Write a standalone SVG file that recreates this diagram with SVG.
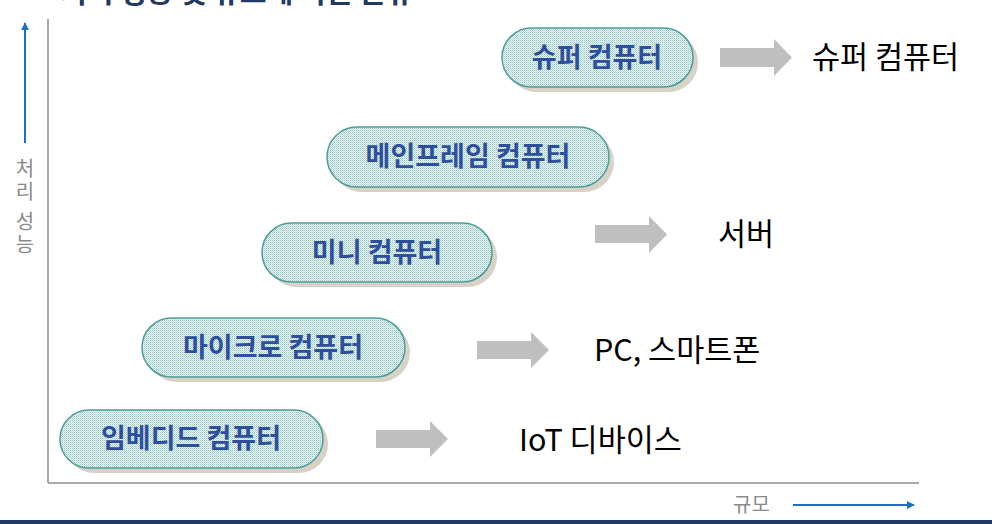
<svg xmlns="http://www.w3.org/2000/svg" width="992" height="524" viewBox="0 0 992 524">
<defs>
<pattern id="dots" width="2" height="2" patternUnits="userSpaceOnUse">
<rect width="2" height="2" fill="#eef7f6"/>
<rect x="0" y="0" width="1" height="1" fill="#92c9c6"/>
<rect x="1" y="1" width="1" height="1" fill="#b5dcda"/>
</pattern>
<marker id="ah" viewBox="0 0 10 10" refX="9" refY="5" markerWidth="4" markerHeight="4" orient="auto-start-reverse" markerUnits="strokeWidth">
<path d="M0,0 L10,5 L0,10 z" fill="#1f6fbf"/>
</marker>
<style>
.pill{fill:url(#dots);stroke:#4e9c9a;stroke-width:1.5}
.shadow{fill:#d8d2c6}
.ptxt{font-family:"Noto Sans CJK KR","Noto Sans",sans-serif;font-weight:bold;font-size:27px;fill:#2e4f9e;text-anchor:middle}
.rtxt{font-family:"Noto Sans CJK KR","Noto Sans",sans-serif;font-size:30.5px;fill:#000}
.axis{stroke:#8c8c8c;stroke-width:1.5;fill:none}
.blue{stroke:#1f6fbf;stroke-width:2;fill:none}
.atxt{font-family:"Noto Sans CJK KR","Noto Sans",sans-serif;font-size:20px;fill:#8a8a8a}
.blk{fill:#bfbfbf}
</style>
</defs>
<rect width="992" height="524" fill="#ffffff"/>
<text x="60" y="3" font-family="'Noto Sans CJK KR',sans-serif" font-weight="bold" font-size="29" fill="#1f3864">처리 성능 및 규모에 따른 분류</text>
<rect x="0" y="520" width="992" height="4" fill="#203864"/>

<g id="axes">
<line class="axis" x1="48" y1="19" x2="48" y2="483"/>
<line class="axis" x1="48" y1="483" x2="919" y2="483"/>
<line class="blue" x1="25" y1="143" x2="25" y2="23" marker-end="url(#ah)"/>
<line class="blue" x1="793" y1="505" x2="914" y2="505" marker-end="url(#ah)"/>
<text class="atxt" x="25" y="158" writing-mode="tb" letter-spacing="3">처리 성능</text>
<text class="atxt" x="733" y="512">규모</text>
</g>

<g id="node-super">
<rect class="shadow" x="507" y="33" width="191" height="59" rx="29.5"/>
<rect class="pill" x="502" y="28" width="191" height="59" rx="29.5"/>
<text class="ptxt" x="597" y="67">슈퍼 컴퓨터</text>
</g>
<g id="node-mainframe">
<rect class="shadow" x="332" y="132" width="282" height="60" rx="30"/>
<rect class="pill" x="327" y="127" width="282" height="60" rx="30"/>
<text class="ptxt" x="468" y="166">메인프레임 컴퓨터</text>
</g>
<g id="node-mini">
<rect class="shadow" x="267" y="228" width="230" height="59" rx="29.5"/>
<rect class="pill" x="262" y="223" width="230" height="59" rx="29.5"/>
<text class="ptxt" x="377" y="262">미니 컴퓨터</text>
</g>
<g id="node-micro">
<rect class="shadow" x="147" y="323" width="263" height="59" rx="29.5"/>
<rect class="pill" x="142" y="318" width="263" height="59" rx="29.5"/>
<text class="ptxt" x="273" y="357">마이크로 컴퓨터</text>
</g>
<g id="node-embedded">
<rect class="shadow" x="65" y="415" width="263" height="58" rx="29"/>
<rect class="pill" x="60" y="410" width="263" height="58" rx="29"/>
<text class="ptxt" x="191" y="448">임베디드 컴퓨터</text>
</g>

<g id="connectors">
<path class="blk" d="M720,48 H774 V39 L792,57.5 L774,76 V67 H720 z"/>
<path class="blk" d="M595,225 H649 V216 L667,234.5 L649,253 V243 H595 z"/>
<path class="blk" d="M477,341 H531 V332 L549,350 L531,368 V359 H477 z"/>
<path class="blk" d="M376,430 H430 V421 L448,439 L430,457 V448 H376 z"/>
</g>

<g id="label-super"><text class="rtxt" x="812" y="68">슈퍼 컴퓨터</text></g>
<g id="label-server"><text class="rtxt" x="718" y="245">서버</text></g>
<g id="label-pc"><text class="rtxt" x="594" y="361">PC, 스마트폰</text></g>
<g id="label-iot"><text class="rtxt" x="519" y="451">IoT 디바이스</text></g>
</svg>
